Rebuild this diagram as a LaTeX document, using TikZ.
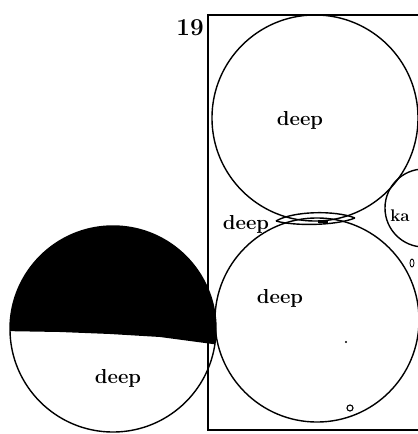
\documentclass[tikz,border=0pt]{standalone}
\usepackage{tikz}
\usetikzlibrary{positioning}

\begin{document}
\begin{tikzpicture}[x=0.025cm, y=-0.025cm,
    ball/.style={circle, draw, line width=1pt, inner sep=0pt},
    tag/.style={font=\bfseries\Large},
    frame/.style={draw, line width=1.2pt}]
  \useasboundingbox (0,0) rectangle (418,434);
  \clip (0,0) rectangle (418,434);

  % Page frame and number
  \draw[frame] (208,15) rectangle (445,430);
  \node[font=\bfseries\LARGE] (num) at (190,28) {19};

  % Left sphere, upper half shaded
  \begin{scope}
    \clip (113,329) circle (103);
    \fill (0,200) -- (0,331) -- (60,332) -- (110,334) -- (160,337) -- (220,345) -- (220,200) -- cycle;
  \end{scope}
  \node[ball, minimum size=5.15cm] (lball) at (113,329) {};
  \node[tag] (ldeep) at (118,378) {deep};

  % Stacked spheres inside the frame
  \node[ball, minimum size=5.15cm] (upper) at (315,118) {};
  \node[tag] (udeep) at (300,120) {deep};
  \node[ball, minimum size=5.1cm] (lower) at (317,320) {};
  \node[tag] (bdeep) at (280,298) {deep};
  \node[ball, minimum size=1.95cm] (side) at (424,208) {};
  \node[font=\bfseries\large, anchor=west, inner sep=0pt] (sidetag) at (390,216) {ka};

  % Neck between the two spheres
  \draw[line width=1pt] (276,221) .. controls (293,211) and (335,210) .. (355,218);
  \draw[line width=1pt] (276,221) .. controls (293,226) and (335,226) .. (355,218);
  \draw[line width=1pt] (318,222) -- (328,222);
  \node[tag, inner sep=0.5pt] (mdeep) at (246,224) {deep};

  % Small marks
  \draw[line width=0.8pt] (350,408) circle (3);
  \draw[line width=0.6pt] (412,263) ellipse (2 and 4);
  \fill (346,342) circle (1.2);
\end{tikzpicture}
\end{document}
